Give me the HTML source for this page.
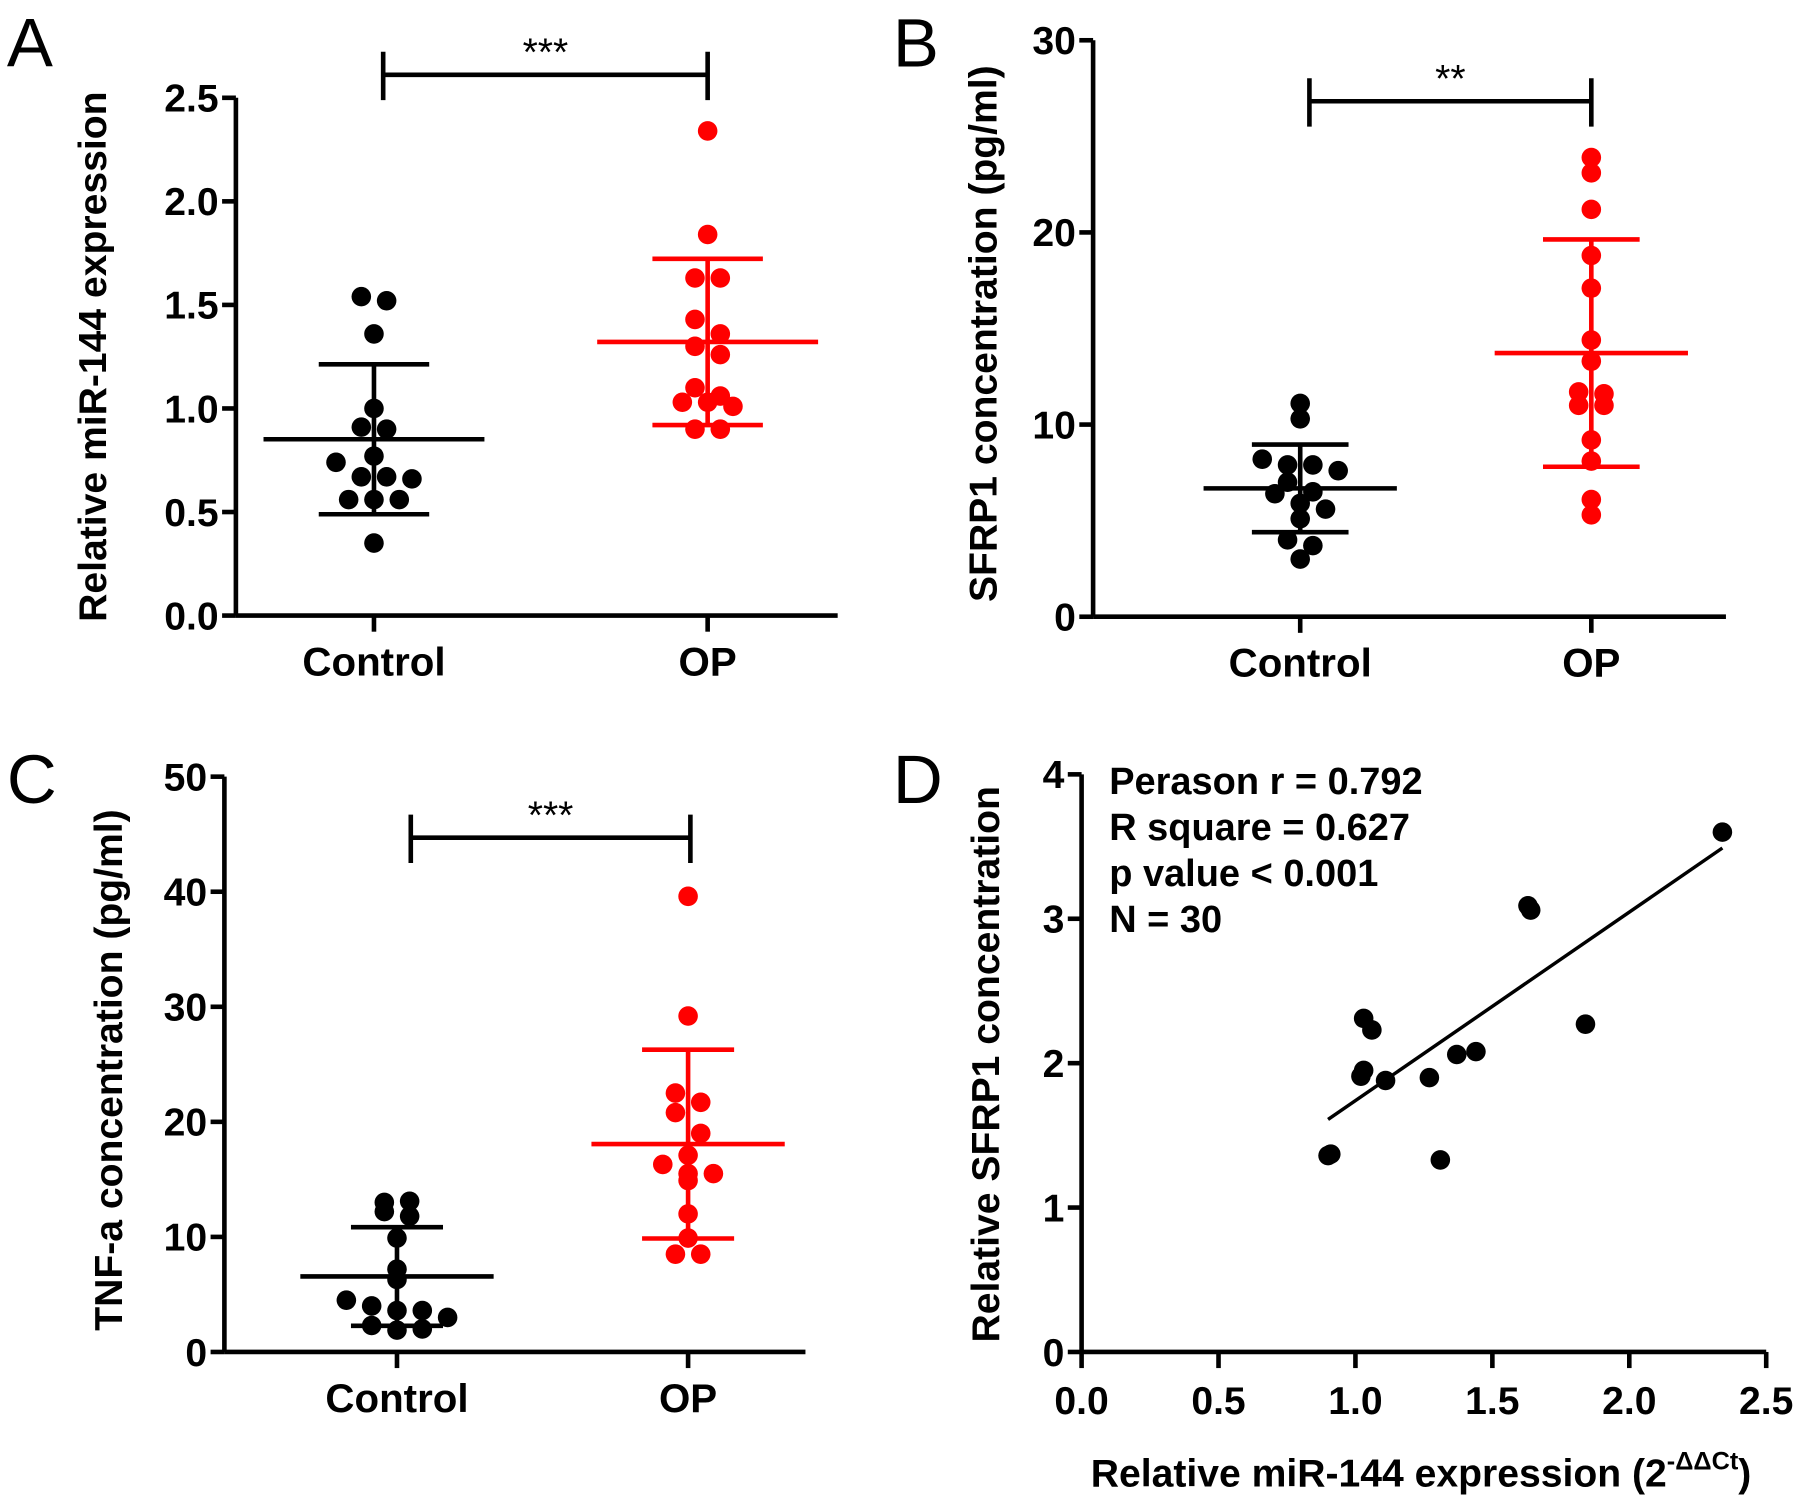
<!DOCTYPE html>
<html><head><meta charset="utf-8"><style>
html,body{margin:0;padding:0;background:#fff}
svg{display:block}
text{font-family:"Liberation Sans",Arial,sans-serif}
</style></head><body>
<svg id="fig" width="1795" height="1505" viewBox="0 0 1560 1308" xmlns="http://www.w3.org/2000/svg"></svg>
<script>
// ---- data ----
const groups = ["Control","OP"];
const aControl = [1.54,1.52,1.36,1.0,0.91,0.9,0.77,0.74,0.67,0.67,0.66,0.56,0.56,0.56,0.35];
const aOP = [2.34,1.84,1.63,1.63,1.43,1.36,1.30,1.26,1.10,1.06,1.03,1.03,1.01,0.9,0.9];
const aTicks = ["0.0","0.5","1.0","1.5","2.0","2.5"];
const bControl = [11.1,10.3,8.2,7.9,7.9,7.6,7.0,6.5,6.4,5.9,5.6,5.1,4.0,3.7,3.0];
const bOP = [23.9,23.1,21.2,18.8,17.1,14.4,13.3,11.7,11.6,11.0,11.0,9.2,8.1,6.1,5.3];
const bTicks = ["0","10","20","30"];
const cControl = [13.0,13.1,12.2,11.8,9.9,7.2,6.3,4.5,4.0,3.6,3.6,3.0,2.3,1.9,2.0];
const cOP = [39.6,29.2,22.5,21.7,20.8,19.0,17.1,16.3,15.5,15.5,14.9,12.0,9.9,8.5,8.5];
const cTicks = ["0","10","20","30","40","50"];
const dX = [0.9,0.91,1.03,1.06,1.03,1.02,1.11,1.27,1.31,1.37,1.44,1.63,1.64,1.84,2.34];
const dY = [1.36,1.37,2.31,2.23,1.95,1.91,1.88,1.9,1.33,2.06,2.08,3.09,3.06,2.27,3.6];
const dXTicks = ["0.0","0.5","1.0","1.5","2.0","2.5"];
const dYTicks = ["0","1","2","3","4"];
const fitX = [0.9,2.34];
const fitY = [1.61,3.49];

const NS="http://www.w3.org/2000/svg";
const svg=document.getElementById('fig');
function el(tag,attrs,parent,txt){const e=document.createElementNS(NS,tag);for(const k in attrs)e.setAttribute(k,attrs[k]);if(txt!==undefined)e.textContent=txt;(parent||svg).appendChild(e);return e;}
function mean(a){return a.reduce((s,v)=>s+v,0)/a.length;}
function sd(a){const m=mean(a);return Math.sqrt(a.reduce((s,v)=>s+(v-m)*(v-m),0)/(a.length-1));}
// jitter by rank within value bins (layout only)
function jitter(vals,binSize){const keys=vals.map(v=>Math.round(v/binSize));return keys.map((k,i)=>{const same=keys.map((kk,j)=>kk===k?j:-1).filter(j=>j>=0);const n=same.length,idx=same.indexOf(i);return (idx-(n-1)/2)*22;});}

function scatterPanel(cfg){
  const g=el('g',{},svg);
  
  
  const y=v=>cfg.y0-(v-cfg.ymin)/(cfg.ymax-cfg.ymin)*(cfg.y0-cfg.y1);
  const ya=el('line',{x1:cfg.ax,y1:cfg.y1,x2:cfg.ax,y2:cfg.y0,stroke:'#000','stroke-width':4},g);
  
  const xa=el('line',{x1:cfg.ax,y1:cfg.y0,x2:cfg.axEnd,y2:cfg.y0,stroke:'#000','stroke-width':4},g);
  
  cfg.ticks.forEach(t=>{const yy=y(parseFloat(t));
    el('line',{x1:cfg.ax-12,y1:yy,x2:cfg.ax,y2:yy,stroke:'#000','stroke-width':4},g);
    const tl=el('text',{x:cfg.ax-15,y:yy+12,'text-anchor':'end','font-size':34,'font-weight':'bold'},g,t);
    
  });
  const yt=el('text',{transform:`translate(${cfg.titleX},${cfg.titleY}) rotate(-90)`,'text-anchor':'middle','font-size':34,'font-weight':'bold'},g,cfg.title);
  
  const series=[cfg.c,cfg.o],colors=['#000','#f00'];
  groups.forEach((gn,i)=>{
    const cx=cfg.cx[i],vals=series[i],col=colors[i];
    el('line',{x1:cx,y1:cfg.y0,x2:cx,y2:cfg.y0+14,stroke:'#000','stroke-width':4},g);
    const cl=el('text',{x:cx,y:cfg.y0+52,'text-anchor':'middle','font-size':35,'font-weight':'bold'},g,gn);
    
    const jit=jitter(vals,cfg.bin);
    vals.forEach((v,j)=>{const c=el('circle',{cx:cx+jit[j],cy:y(v),r:8.5,fill:col},g);
      });
    const m=mean(vals),s=sd(vals);
    const ml=el('line',{x1:cx-cfg.mw,y1:y(m),x2:cx+cfg.mw,y2:y(m),stroke:col,'stroke-width':4},g);
    
    el('line',{x1:cx,y1:y(m+s),x2:cx,y2:y(m-s),stroke:col,'stroke-width':4},g);
    [m+s,m-s].forEach(v=>{const cap=el('line',{x1:cx-cfg.cw,y1:y(v),x2:cx+cfg.cw,y2:y(v),stroke:col,'stroke-width':4},g);
      });
  });
  const bx1=cfg.bx[0],bx2=cfg.bx[1],by=cfg.by;
  const br=el('path',{d:`M${bx1},${by-20}V${by+22}M${bx1},${by}H${bx2}M${bx2},${by-20}V${by+22}`,stroke:'#000','stroke-width':4,fill:'none'},g);
  
  const st=el('text',{x:(bx1+bx2)/2,y:by-8,'text-anchor':'middle','font-size':34},g,cfg.stars);
  
  const pl=el('text',{x:cfg.lx,y:cfg.ly,'font-size':60},g,cfg.letter);
  
}

scatterPanel({name:'panel-a',ax:205,axEnd:728,y0:535,y1:85,ymin:0,ymax:2.5,ticks:aTicks,bin:0.1,
  title:'Relative miR-144 expression',titleX:92,titleY:310,cx:[325,615],c:aControl,o:aOP,mw:96,cw:48,
  bx:[333,615],by:65,stars:'***',letter:'A',lx:6,ly:58});
scatterPanel({name:'panel-b',ax:950,axEnd:1500,y0:536,y1:35,ymin:0,ymax:30,ticks:bTicks,bin:1.0,
  title:'SFRP1 concentration (pg/ml)',titleX:866,titleY:290,cx:[1130,1383],c:bControl,o:bOP,mw:84,cw:42,
  bx:[1138,1383],by:88,stars:'**',letter:'B',lx:776,ly:58});
scatterPanel({name:'panel-c',ax:195,axEnd:700,y0:1175,y1:675,ymin:0,ymax:50,ticks:cTicks,bin:2.0,
  title:'TNF-a concentration (pg/ml)',titleX:106,titleY:930,cx:[345,598],c:cControl,o:cOP,mw:84,cw:40,
  bx:[357,600],by:728,stars:'***',letter:'C',lx:6,ly:698});

(function(){
  const g=el('g',{},svg);
  
  
  const X0=940,X1=1535,Y0=1175,Y1=673;
  const x=v=>X0+v/2.5*(X1-X0), y=v=>Y0-v/4*(Y0-Y1);
  const ya=el('line',{x1:X0,y1:Y1,x2:X0,y2:Y0,stroke:'#000','stroke-width':4},g);
  
  const xa=el('line',{x1:X0,y1:Y0,x2:X1,y2:Y0,stroke:'#000','stroke-width':4},g);
  
  dYTicks.forEach(t=>{const yy=y(parseFloat(t));
    el('line',{x1:X0-12,y1:yy,x2:X0,y2:yy,stroke:'#000','stroke-width':4},g);
    const tl=el('text',{x:X0-15,y:yy+12,'text-anchor':'end','font-size':34,'font-weight':'bold'},g,t);
    });
  dXTicks.forEach(t=>{const xx=x(parseFloat(t));
    el('line',{x1:xx,y1:Y0,x2:xx,y2:Y0+14,stroke:'#000','stroke-width':4},g);
    const tl=el('text',{x:xx,y:Y0+54,'text-anchor':'middle','font-size':34,'font-weight':'bold'},g,t);
    });
  const yt=el('text',{transform:`translate(868,925) rotate(-90)`,'text-anchor':'middle','font-size':34,'font-weight':'bold'},g,'Relative SFRP1 concentration');
  
  const xt=el('text',{x:1235,y:1292,'text-anchor':'middle','font-size':34,'font-weight':'bold'},g);
  
  xt.appendChild(document.createTextNode('Relative miR-144 expression (2'));
  el('tspan',{dy:-15,'font-size':22},xt,'-\u0394\u0394Ct');
  el('tspan',{dy:15},xt,')');
  const fl=el('line',{x1:x(fitX[0]),y1:y(fitY[0]),x2:x(fitX[1]),y2:y(fitY[1]),stroke:'#000','stroke-width':3},g);
  
  dX.forEach((v,i)=>{const c=el('circle',{cx:x(v),cy:y(dY[i]),r:8.5,fill:'#000'},g);
    });
  ['Perason r = 0.792','R square = 0.627','p value < 0.001','N = 30'].forEach((s,i)=>{
    const t=el('text',{x:964,y:690+i*40,'font-size':33,'font-weight':'bold'},g,s);
    });
  const pl=el('text',{x:776,y:698,'font-size':60},g,'D');
  
})();
</script>
</body></html>
